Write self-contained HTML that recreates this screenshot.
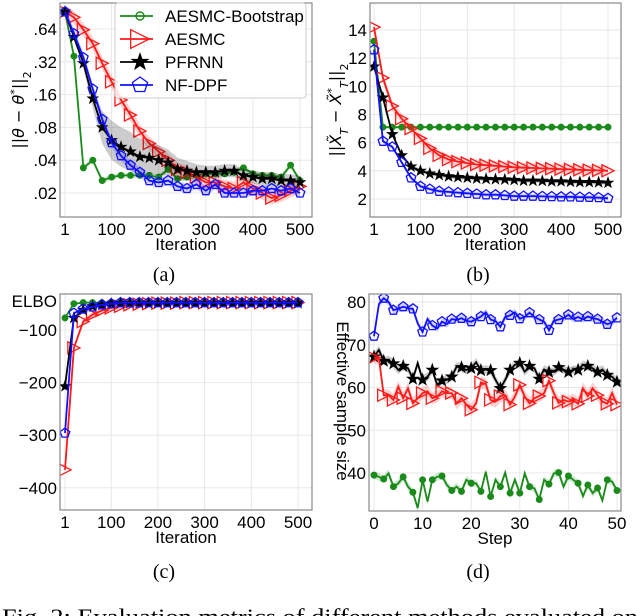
<!DOCTYPE html>
<html><head><meta charset="utf-8"><style>
html,body{margin:0;padding:0;background:#fff;width:640px;height:616px;overflow:hidden}
svg{display:block;font-family:"Liberation Sans",sans-serif}
.cap{font-family:"Liberation Serif",serif}
</style></head><body>
<svg id="fig" width="640" height="616" viewBox="0 0 640 616"></svg>
<script>
// ---------- data ----------
const iters = [1,20,40,60,80,100,120,140,160,180,200,220,240,260,280,300,320,340,360,380,400,420,440,460,480,500];
const steps = [0,1,2,3,4,5,6,7,8,9,10,11,12,13,14,15,16,17,18,19,20,21,22,23,24,25,26,27,28,29,30,31,32,33,34,35,36,37,38,39,40,41,42,43,44,45,46,47,48,49,50];
const seriesNames = ["AESMC-Bootstrap","AESMC","PFRNN","NF-DPF"];
// (a) parameter error
const aGreen = [0.92,0.36,0.034,0.040,0.026,0.028,0.029,0.029,0.029,0.029,0.028,0.033,0.027,0.028,0.029,0.030,0.030,0.030,0.031,0.034,0.030,0.029,0.029,0.028,0.036,0.026];
const aRed = [0.92,0.82,0.63,0.47,0.31,0.21,0.143,0.104,0.074,0.057,0.048,0.040,0.033,0.031,0.028,0.025,0.025,0.023,0.022,0.025,0.022,0.020,0.018,0.019,0.021,0.023];
const aBlack = [0.92,0.54,0.31,0.147,0.080,0.061,0.053,0.048,0.043,0.042,0.040,0.038,0.033,0.032,0.031,0.031,0.031,0.032,0.032,0.029,0.028,0.027,0.027,0.026,0.026,0.025];
const aBlue = [0.92,0.58,0.35,0.18,0.095,0.058,0.044,0.036,0.031,0.026,0.025,0.026,0.023,0.022,0.024,0.021,0.024,0.020,0.020,0.020,0.021,0.021,0.022,0.021,0.022,0.020];
const aBlackSpread = [0.02,0.1,0.15,0.3,0.5,0.6,0.6,0.6,0.55,0.5,0.45,0.4,0.35,0.3,0.25,0.2,0.2,0.2,0.2,0.2,0.2,0.2,0.2,0.2,0.2,0.2];
const aTicks = [0.64,0.32,0.16,0.08,0.04,0.02];
const aTickLabels = [".64",".32",".16",".08",".04",".02"];
// (b) state error
const bGreen = [13.2,7.1,7.1,7.1,7.1,7.1,7.1,7.1,7.1,7.1,7.1,7.1,7.1,7.1,7.1,7.1,7.1,7.1,7.1,7.1,7.1,7.1,7.1,7.1,7.1,7.1];
const bRed = [14.2,10.6,8.6,7.7,7.0,6.3,5.6,5.1,4.8,4.65,4.55,4.45,4.4,4.35,4.3,4.25,4.22,4.2,4.17,4.15,4.12,4.1,4.07,4.05,4.03,4.0];
const bBlack = [11.4,9.2,6.6,5.1,4.3,4.0,3.8,3.7,3.6,3.55,3.5,3.45,3.42,3.4,3.38,3.35,3.3,3.3,3.28,3.25,3.25,3.22,3.2,3.2,3.18,3.15];
const bBlue = [12.6,6.1,5.7,4.6,3.5,2.9,2.7,2.55,2.5,2.45,2.4,2.35,2.3,2.3,2.25,2.2,2.2,2.2,2.18,2.17,2.15,2.15,2.13,2.12,2.1,2.05];
const bTicks = [2,4,6,8,10,12,14];
// (c) ELBO
const cGreen = [-77,-50,-48,-48,-48,-48,-48,-48,-48,-48,-48,-48,-48,-48,-48,-48,-48,-48,-48,-48,-48,-48,-48,-48,-48,-48];
const cRed = [-366,-134,-84,-71,-63,-58,-55,-52,-51,-50,-49,-49,-49,-48,-48,-48,-48,-48,-48,-48,-48,-48,-48,-48,-48,-48];
const cBlack = [-207,-77,-62,-55,-52,-50,-49,-49,-49,-49,-49,-49,-49,-49,-49,-49,-49,-49,-49,-49,-49,-49,-49,-49,-49,-49];
const cBlue = [-296,-68,-60,-56,-52,-50,-48,-48,-48,-48,-48,-48,-48,-48,-48,-48,-48,-48,-48,-48,-48,-48,-48,-48,-48,-48];
const cTicks = [-100,-200,-300,-400];
const cTickLabels = ["\u2212100","\u2212200","\u2212300","\u2212400"];
// (d) effective sample size
const dBlue = [72,79.5,80.9,80,78.1,78.4,78.9,78.5,78.4,75,73,76,74.5,73.8,75.4,74.8,76,75.8,76.2,75.6,75.4,76,76.6,77.6,75.9,75.5,74.2,76.5,76.9,77.6,76.1,76.5,77.5,76.5,75.9,75.4,73.4,75.6,75.9,76.2,77,76,76.5,75.9,76.6,76.2,76,75.4,74.8,75.2,76.3];
const dBlack = [67.2,68.8,66.2,66.4,65.6,64.1,65,64.5,62,65.7,61.8,62.5,64.1,60.6,61.6,61.8,62.5,64.9,64.7,64.1,64.5,65.9,64,64.2,64,61.8,59.8,61.8,64.1,65.3,65.7,63.7,65,64.5,62,64.2,63.6,63.7,64.7,64.2,63.6,64.2,64.1,65.3,65,64.5,63.6,64.2,62.9,62.5,61.3];
const dRed = [67,66.9,58.2,58.2,57.1,60.2,57.5,59.8,56.3,57.5,58.7,59.1,57.5,57.9,59.1,58.7,58.7,56.3,57.5,56,54.8,56.3,61.2,60.8,57.1,56.7,58,58.2,56,57.9,60.6,57.9,56.3,57.5,58,58.7,61.6,58.7,56.4,57.1,56.7,57.1,56.2,59.8,58,59.8,58.2,56.7,56.2,58.7,56];
const dGreen = [39.5,39.1,38.6,39.9,36.8,37.6,39.1,36.8,35.5,31.8,38.4,33.3,38.4,39.1,39.3,37.2,35.9,36.8,35.7,38.4,37.6,37.6,35.7,40.3,34.5,38.4,36.8,40.1,35.3,38.4,35.3,39.9,36.8,36.4,33.8,38.4,37.4,39.9,40.1,36.8,39.3,38.4,37.6,34.6,37.2,35.3,36.5,33.6,38.4,38,35.9];
const dTicks = [40,50,60,70,80];
const xTicksIter = [1,100,200,300,400,500];
const xTicksStep = [0,10,20,30,40,50];

// ---------- drawing ----------
const NS = "http://www.w3.org/2000/svg";
const svg = document.getElementById("fig");
function mk(tag, attrs, parent){
  const e = document.createElementNS(NS, tag);
  for (const k in attrs) e.setAttribute(k, attrs[k]);
  (parent||svg).appendChild(e);
  return e;
}
const COL = {green:"#1a8a1a", red:"#ff1a1a", black:"#000", blue:"#1010ff"};

function marker(g, type, x, y, s, color){
  let e;
  if (type==="circle"){
    e = mk("circle",{cx:x,cy:y,r:s*0.32,fill:color,stroke:color,"stroke-width":1.2},g);
  } else if (type==="tri"){
    const h=s*0.55;
    e = mk("polygon",{points:`${x-h},${y-h} ${x+h},${y} ${x-h},${y+h}`,fill:"none",stroke:color,"stroke-width":1.3},g);
  } else if (type==="star"){
    let p=[];
    for(let i=0;i<10;i++){const r=i%2?s*0.22:s*0.55;const a=-Math.PI/2+i*Math.PI/5;p.push((x+r*Math.cos(a)).toFixed(1)+","+(y+r*Math.sin(a)).toFixed(1));}
    e = mk("polygon",{points:p.join(" "),fill:color,stroke:color,"stroke-width":0.8},g);
  } else {
    let p=[];
    for(let i=0;i<5;i++){const r=s*0.5;const a=-Math.PI/2+i*2*Math.PI/5;p.push((x+r*Math.cos(a)).toFixed(1)+","+(y+r*Math.sin(a)).toFixed(1));}
    e = mk("polygon",{points:p.join(" "),fill:"none",stroke:color,"stroke-width":1.3},g);
  }
  
  
}

function panel(id, box, xs, ys, xTicks, xLabels, yTicks, yLabels, xlabel, series, every){
  const g = mk("g",{});
  
  
  const clip = mk("clipPath",{id:"clip-"+id},g);
  mk("rect",{x:box.x0,y:box.y0,width:box.x1-box.x0,height:box.y1-box.y0},clip);
  xTicks.forEach((t,i)=>{
    const l=mk("line",{x1:xs(t),x2:xs(t),y1:box.y0,y2:box.y1,stroke:"#e8e8e8","stroke-width":1},g);
    
    
    const tx=mk("text",{x:xs(t),y:box.y1+18,"text-anchor":"middle","font-size":17,fill:"#000"},g);
    
    
    tx.textContent=xLabels[i];
  });
  yTicks.forEach((t,i)=>{
    const l=mk("line",{x1:box.x0,x2:box.x1,y1:ys(t),y2:ys(t),stroke:"#e8e8e8","stroke-width":1},g);
    
    
    const tx=mk("text",{x:box.x0-3,y:ys(t)+6,"text-anchor":"end","font-size":17,fill:"#000"},g);
    
    
    tx.textContent=yLabels[i];
  });
  const xl=mk("text",{x:(box.x0+box.x1)/2,y:box.y1+33,"text-anchor":"middle","font-size":17,fill:"#000"},g);
  
  
  xl.textContent=xlabel;
  const pg = mk("g",{"clip-path":`url(#clip-${id})`},g);
  series.forEach(s=>{
    const xv=s.x, yv=s.y;
    let up=[],dn=[];
    xv.forEach((x,i)=>{
      const sp = Array.isArray(s.spread)? s.spread[i] : s.spread;
      const hi = s.log ? yv[i]*Math.pow(2,sp) : yv[i]+sp;
      const lo = s.log ? yv[i]/Math.pow(2,sp) : yv[i]-sp;
      up.push(xs(x).toFixed(1)+","+ys(hi).toFixed(1));
      dn.unshift(xs(x).toFixed(1)+","+ys(lo).toFixed(1));
    });
    const band=mk("polygon",{points:up.concat(dn).join(" "),fill:s.color,"fill-opacity":0.2,stroke:"none"},pg);
    
    
    const ln=mk("polyline",{points:xv.map((x,i)=>xs(x).toFixed(1)+","+ys(yv[i]).toFixed(1)).join(" "),fill:"none",stroke:s.color,"stroke-width":1.8},pg);
    
    
    xv.forEach((x,i)=>{ if(i%every===0) marker(pg,s.m,xs(x),ys(yv[i]),s.size,s.color); });
  });
  const fr=mk("rect",{x:box.x0,y:box.y0,width:box.x1-box.x0,height:box.y1-box.y0,fill:"none",stroke:"#888","stroke-width":1.2},g);
  
  
  return g;
}

const axA = v=>65+(v-1)*235/499, ayA = v=>29-Math.log2(v/0.64)*32.8;
panel("a",{x0:60,x1:312,y0:3,y1:217},axA,ayA,xTicksIter,xTicksIter.map(String),aTicks,aTickLabels,"Iteration",[
  {x:iters,y:aGreen,color:COL.green,m:"circle",size:9,spread:0.08,log:true},
  {x:iters,y:aRed,color:COL.red,m:"tri",size:11,spread:0.2,log:true},
  {x:iters,y:aBlack,color:COL.black,m:"star",size:10,spread:aBlackSpread,log:true},
  {x:iters,y:aBlue,color:COL.blue,m:"pent",size:10,spread:0.15,log:true}],1);
const axB = v=>374+(v-1)*234/499, ayB = v=>30+(14-v)*14.08;
panel("b",{x0:370,x1:621,y0:3,y1:217},axB,ayB,xTicksIter,xTicksIter.map(String),bTicks,bTicks.map(String),"Iteration",[
  {x:iters,y:bGreen,color:COL.green,m:"circle",size:9,spread:0.1},
  {x:iters,y:bRed,color:COL.red,m:"tri",size:11,spread:0.35},
  {x:iters,y:bBlack,color:COL.black,m:"star",size:10,spread:0.15},
  {x:iters,y:bBlue,color:COL.blue,m:"pent",size:10,spread:0.15}],1);
const axC = v=>65+(v-1)*233/499, ayC = v=>330+(-100-v)*0.526;
panel("c",{x0:60,x1:312,y0:294,y1:510},axC,ayC,xTicksIter,xTicksIter.map(String),cTicks,cTickLabels,"Iteration",[
  {x:iters,y:cGreen,color:COL.green,m:"circle",size:9,spread:2},
  {x:iters,y:cRed,color:COL.red,m:"tri",size:11,spread:5},
  {x:iters,y:cBlack,color:COL.black,m:"star",size:10,spread:3},
  {x:iters,y:cBlue,color:COL.blue,m:"pent",size:10,spread:3}],1);
const axD = v=>374+v*243/50, ayD = v=>302+(80-v)*4.275;
panel("d",{x0:369,x1:621,y0:294,y1:511},axD,ayD,xTicksStep,xTicksStep.map(String),dTicks,dTicks.map(String),"Step",[
  {x:steps,y:dBlue,color:COL.blue,m:"pent",size:10,spread:0.8},
  {x:steps,y:dBlack,color:COL.black,m:"star",size:11,spread:1},
  {x:steps,y:dRed,color:COL.red,m:"tri",size:11,spread:1.4},
  {x:steps,y:dGreen,color:COL.green,m:"circle",size:9,spread:0.9}],2);

function txt(attrs, content, name){
  const t=mk("text",attrs);
  
  
  t.innerHTML=content; return t;
}
txt({x:0,y:0,transform:"translate(24,110) rotate(-90)","text-anchor":"middle","font-size":16,"font-family":"DejaVu Sans, sans-serif"},"||<tspan font-style='italic'>θ</tspan> − <tspan font-style='italic'>θ</tspan><tspan baseline-shift='super' font-size='11'>*</tspan>||<tspan baseline-shift='sub' font-size='11'>2</tspan>","y-axis-title-a");
txt({x:0,y:0,transform:"translate(341,110) rotate(-90)","text-anchor":"middle","font-size":16,"font-family":"DejaVu Sans, sans-serif"},"||<tspan font-style='italic'>X̃</tspan><tspan baseline-shift='sub' font-size='11' font-style='italic'>T</tspan> − <tspan font-style='italic'>X̃</tspan><tspan baseline-shift='super' font-size='11'>*</tspan><tspan baseline-shift='sub' font-size='11' font-style='italic'>T</tspan>||<tspan baseline-shift='sub' font-size='11'>2</tspan>","y-axis-title-b");
txt({x:57,y:307,"text-anchor":"end","font-size":17},"ELBO","y-axis-title-c");
txt({x:0,y:0,transform:"translate(337,401) rotate(90)","text-anchor":"middle","font-size":17},"Effective sample size","y-axis-title-d");

const lg=mk("g",{});


mk("rect",{x:115,y:3,width:191,height:95,rx:3,fill:"#fff","fill-opacity":0.85,stroke:"#ccc","stroke-width":1},lg);
const legM=["circle","tri","star","pent"], legC=[COL.green,COL.red,COL.black,COL.blue], legS=[10,17,16,16];
seriesNames.forEach((n,i)=>{
  const y=16+i*23;
  const l=mk("line",{x1:120,x2:153,y1:y,y2:y,stroke:legC[i],"stroke-width":1.8},lg);
  
  
  if(legM[i]==="circle"){const c=mk("circle",{cx:140,cy:y,r:4,fill:"none",stroke:legC[i],"stroke-width":1.4},lg);}
  else marker(lg,legM[i],140,y,legS[i],legC[i]);
  const t=mk("text",{x:165,y:y+6,"font-size":17,fill:"#000"},lg);
  
  
  t.textContent=n;
});

[["(a)",164,281],["(b)",478,281],["(c)",164,578],["(d)",478,578]].forEach(c=>{
  const t=mk("text",{x:c[1],y:c[2],"text-anchor":"middle","font-size":20,class:"cap"});
  
  
  t.textContent=c[0];
});
const fc=mk("text",{x:2,y:624,"font-size":22,class:"cap",textLength:636,lengthAdjust:"spacingAndGlyphs"});


fc.textContent="Fig. 2: Evaluation metrics of different methods evaluated on";
</script>
</body></html>
